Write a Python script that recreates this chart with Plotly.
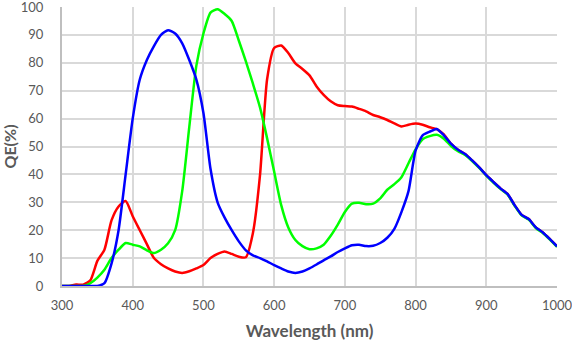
import plotly.graph_objects as go

wavelength = list(range(300, 1001, 10))

blue_qe = [0, 0, 0, 0, 0, 0, 1, 8, 20, 40, 60, 74, 81, 86, 90, 91.7, 90.5, 87, 81, 74,
           62, 42, 30, 24.5, 20, 16, 12.8, 11, 10, 8.8, 7.5, 6.3, 5.2, 4.7, 5.2, 6.3,
           7.7, 9.2, 10.6, 12.2, 13.5, 14.6, 14.8, 14.3, 14.4, 15.4, 17.3, 20.5, 26.5,
           34, 48.5, 54, 55.3, 56.3, 54, 51, 48.8, 47.3, 45, 42.5, 39.7, 37.3, 35, 33,
           29, 25.5, 24, 21, 19.2, 16.8, 14.2]

red_qe = [0, 0, 0.5, 0.5, 2, 9, 13, 23.5, 28.5, 30.5, 25, 20, 15, 10, 7.8, 6.3, 5.2,
          4.7, 5.3, 6.3, 7.5, 10, 11.5, 12.4, 11.5, 10.5, 10.3, 19, 39.7, 74, 85.3,
          86.2, 83.5, 79.8, 77.8, 75.5, 71.5, 68.5, 66.2, 64.8, 64.5, 64.3, 63.5, 62.6,
          61.3, 60.5, 59.5, 58.3, 57.2, 57.8, 58.2, 57.8, 56.9, 56.2, 54.3, 51, 48.8,
          47.3, 45, 42.5, 39.7, 37.3, 35, 33, 29, 25.5, 24, 21, 19.2, 16.8, 14.2]

green_qe = [0, 0, 0, 0, 1, 3, 5.8, 10, 13, 15.4, 14.8, 14.2, 12.8, 11.8, 13, 15.3, 20,
            34, 57, 79, 90.5, 98, 99.2, 97.5, 95, 88, 80.5, 72.5, 64, 53, 41, 29, 21,
            16.5, 14.3, 13.2, 13.5, 14.8, 18, 22, 26.5, 29.5, 29.8, 29.3, 29.5, 31.4,
            34.5, 36.5, 39, 44, 49, 52.6, 53.7, 54.2, 52.8, 50.2, 48.3, 47, 44.8, 42.3,
            39.6, 37.1, 34.8, 32.8, 28.8, 25.3, 23.8, 20.8, 19, 16.6, 14.0]

x_ticks = [300, 400, 500, 600, 700, 800, 900, 1000]
y_ticks = [0, 10, 20, 30, 40, 50, 60, 70, 80, 90, 100]

fig = go.Figure()
for name, vals, col in [("Red", red_qe, "#ff0000"),
                        ("Green", green_qe, "#00ff00"),
                        ("Blue", blue_qe, "#0000ff")]:
    fig.add_trace(go.Scatter(x=wavelength, y=vals, mode="lines", name=name,
                             line=dict(color=col, width=2.5, shape="spline", smoothing=0.6)))

tick_font = dict(family="Lato", size=13, color="#595959")
fig.update_layout(
    width=572, height=348,
    margin=dict(l=62, r=15, t=7, b=62),
    paper_bgcolor="white", plot_bgcolor="white",
    showlegend=False,
    font=dict(family="Lato", color="#595959"),
)
fig.update_xaxes(
    range=[300, 1000], tickvals=x_ticks, ticktext=[str(v) for v in x_ticks],
    showgrid=True, gridcolor="#d9d9d9", gridwidth=2,
    showline=True, linecolor="#bfbfbf", linewidth=2,
    ticks="", tickfont=tick_font, ticklabelstandoff=6, ticklabeloverflow="allow",
    zeroline=False, automargin=False,
    title=dict(text="<b>Wavelength (nm)</b>", font=dict(family="Lato", size=17, color="#595959"), standoff=14),
)
fig.update_yaxes(
    range=[0, 100], tickvals=y_ticks, ticktext=[str(v) for v in y_ticks],
    showgrid=True, gridcolor="#d9d9d9", gridwidth=2,
    showline=True, linecolor="#bfbfbf", linewidth=2,
    ticks="", tickfont=tick_font, ticklabelstandoff=14, ticklabeloverflow="allow",
    zeroline=False, automargin=False,
    title=dict(text="<b>QE(%)</b>", font=dict(family="Lato", size=16, color="#595959"), standoff=8),
)
fig.write_html("out.html")
